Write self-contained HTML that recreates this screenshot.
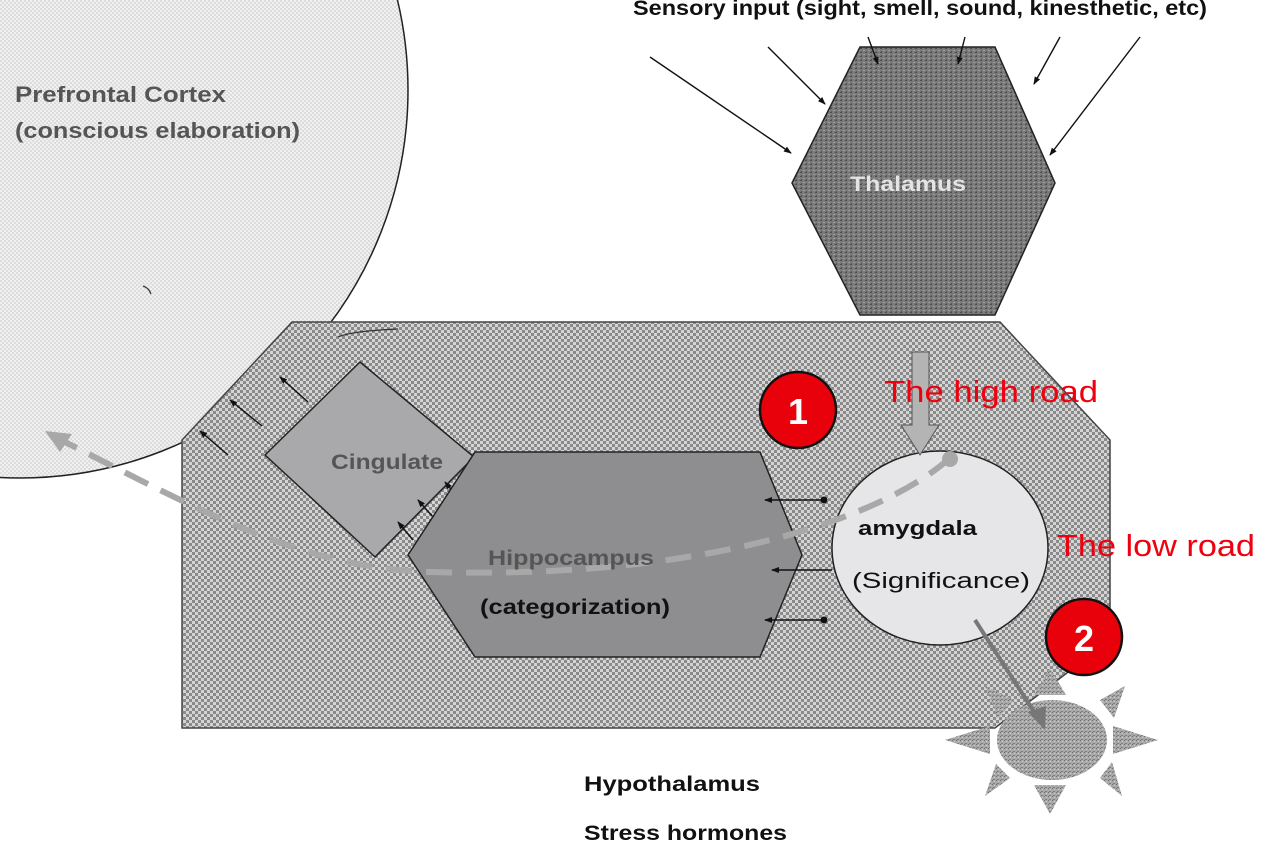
<!DOCTYPE html>
<html><head><meta charset="utf-8"><style>
html,body{margin:0;padding:0;background:#fff;}
svg{display:block;}
text{font-family:"Liberation Sans",sans-serif;}
</style></head><body>
<svg width="1268" height="866" viewBox="0 0 1268 866" xmlns="http://www.w3.org/2000/svg">
<defs>
<pattern id="chk" width="6" height="6" patternUnits="userSpaceOnUse">
<rect width="6" height="6" fill="#d4d4d4"/>
<rect width="3" height="3" fill="#8a8a8a"/>
<rect x="3" y="3" width="3" height="3" fill="#8a8a8a"/>
</pattern>
<pattern id="lchk" width="4" height="4" patternUnits="userSpaceOnUse">
<rect width="4" height="4" fill="#f0f0f0"/>
<rect width="2" height="2" fill="#dcdcdc"/>
<rect x="2" y="2" width="2" height="2" fill="#dcdcdc"/>
</pattern>
<pattern id="tex" width="5" height="4" patternUnits="userSpaceOnUse">
<rect width="5" height="4" fill="#7a7a7a"/>
<rect x="0" y="0" width="2" height="1" fill="#4e4e4e"/>
<rect x="3" y="2" width="2" height="1" fill="#9a9a9a"/>
<rect x="1" y="3" width="1" height="1" fill="#5a5a5a"/>
</pattern>
<pattern id="tex2" width="4" height="4" patternUnits="userSpaceOnUse">
<rect width="4" height="4" fill="#a8a8a8"/>
<rect x="0" y="0" width="1" height="1" fill="#6e6e6e"/>
<rect x="2" y="1" width="1" height="1" fill="#d0d0d0"/>
<rect x="1" y="3" width="2" height="1" fill="#808080"/>
</pattern>
<marker id="ah" markerWidth="8" markerHeight="8" refX="7" refY="4" orient="auto" markerUnits="userSpaceOnUse">
<path d="M0,1 L8,4 L0,7 Z" fill="#111"/>
</marker>
</defs>

<circle cx="20" cy="90" r="388" fill="url(#lchk)" stroke="#222" stroke-width="1.5"/>
<path d="M143,286 q6,2 8,8" fill="none" stroke="#333" stroke-width="1.2"/>
<text x="15" y="102" font-size="22" font-weight="bold" fill="#555" textLength="211" lengthAdjust="spacingAndGlyphs">Prefrontal Cortex</text>
<text x="15" y="138" font-size="22" font-weight="bold" fill="#555" textLength="285" lengthAdjust="spacingAndGlyphs">(conscious elaboration)</text>

<text x="633" y="15" font-size="21" font-weight="bold" fill="#111" textLength="574" lengthAdjust="spacingAndGlyphs">Sensory input (sight, smell, sound, kinesthetic, etc)</text>

<polygon points="860,47 995,47 1055,183 995,315 860,315 792,183" fill="url(#tex)" stroke="#222" stroke-width="1.5"/>
<text x="850" y="191" font-size="21" font-weight="bold" fill="#e4e4e4" textLength="116" lengthAdjust="spacingAndGlyphs">Thalamus</text>
<g stroke="#111" stroke-width="1.4" marker-end="url(#ah)">
<line x1="650" y1="57" x2="791" y2="153"/>
<line x1="768" y1="47" x2="825" y2="104"/>
<line x1="868" y1="37" x2="878" y2="64"/>
<line x1="965" y1="37" x2="958" y2="64"/>
<line x1="1060" y1="37" x2="1034" y2="84"/>
<line x1="1140" y1="37" x2="1050" y2="155"/>
</g>

<polygon points="292,322 1000,322 1110,440 1110,640 995,728 182,728 182,440" fill="url(#chk)" stroke="#444" stroke-width="1.5"/>

<path d="M338,337 q14,-6 60,-8" fill="none" stroke="#333" stroke-width="1.2"/>
<polygon points="360,362 474,457 375,557 265,455" fill="#a9a9ab" stroke="#222" stroke-width="1.5"/>
<text x="331" y="469" font-size="21" font-weight="bold" fill="#555" textLength="112" lengthAdjust="spacingAndGlyphs">Cingulate</text>
<g stroke="#111" stroke-width="1.4" marker-end="url(#ah)">
<line x1="308" y1="402" x2="280" y2="377"/>
<line x1="262" y1="426" x2="230" y2="400"/>
<line x1="228" y1="455" x2="200" y2="431"/>
<line x1="413" y1="540" x2="398" y2="522"/>
<line x1="433" y1="517" x2="418" y2="500"/>
<line x1="465" y1="507" x2="445" y2="482"/>
</g>

<polygon points="475,452 760,452 802,555 760,657 475,657 408,555" fill="#8e8e90" stroke="#222" stroke-width="1.5"/>

<g stroke="#111" stroke-width="1.4" marker-end="url(#ah)">
<line x1="825" y1="500" x2="765" y2="500"/>
<line x1="832" y1="570" x2="772" y2="570"/>
<line x1="825" y1="620" x2="765" y2="620"/>
</g>
<circle cx="824" cy="500" r="3.5" fill="#111"/>
<circle cx="824" cy="620" r="3.5" fill="#111"/>

<ellipse cx="940" cy="548" rx="108" ry="97" fill="#e6e6e8" stroke="#222" stroke-width="1.5"/>
<text x="858" y="535" font-size="20" font-weight="bold" fill="#111" textLength="119" lengthAdjust="spacingAndGlyphs">amygdala</text>
<text x="852" y="588" font-size="22" fill="#111" textLength="178" lengthAdjust="spacingAndGlyphs">(Significance)</text>

<polygon points="912,352 929,352 929,425 939,425 920,455 901,425 912,425" fill="#b4b4b4" stroke="#555" stroke-width="1"/>

<path d="M950,458 C 880,520 700,580 430,572 C 300,568 200,510 55,437" fill="none" stroke="#a8a8a8" stroke-width="6" stroke-dasharray="26,14"/>
<circle cx="950" cy="459" r="8" fill="#a8a8a8"/>
<polygon points="45,431 72,434 60,452" fill="#a8a8a8"/>

<text x="488" y="565" font-size="21" font-weight="bold" fill="#555" textLength="166" lengthAdjust="spacingAndGlyphs">Hippocampus</text>
<text x="480" y="614" font-size="21" font-weight="bold" fill="#111" textLength="190" lengthAdjust="spacingAndGlyphs">(categorization)</text>

<g fill="url(#tex2)">
<polygon points="1050,668 1066,695 1034,695"/>
<polygon points="1050,814 1066,785 1034,785"/>
<polygon points="945,740 990,726 990,754"/>
<polygon points="1158,740 1113,726 1113,754"/>
<polygon points="985,686 1014,700 998,718"/>
<polygon points="1125,686 1100,700 1114,718"/>
<polygon points="985,796 1010,778 996,764"/>
<polygon points="1122,796 1100,778 1112,762"/>
</g>
<ellipse cx="1052" cy="740" rx="55" ry="40" fill="url(#tex2)"/>
<line x1="975" y1="620" x2="1038" y2="718" stroke="#777" stroke-width="4"/>
<polygon points="1045,730 1028,712 1046,706" fill="#777"/>

<circle cx="798" cy="410" r="38" fill="#e8000b" stroke="#111" stroke-width="2.5"/>
<text x="798" y="424" font-size="36" font-weight="bold" fill="#fff" text-anchor="middle">1</text>
<circle cx="1084" cy="637" r="38" fill="#e8000b" stroke="#111" stroke-width="2.5"/>
<text x="1084" y="651" font-size="36" font-weight="bold" fill="#fff" text-anchor="middle">2</text>

<text x="884" y="402" font-size="31" fill="#f0000f" textLength="214" lengthAdjust="spacingAndGlyphs">The high road</text>
<text x="1057" y="556" font-size="31" fill="#f0000f" textLength="198" lengthAdjust="spacingAndGlyphs">The low road</text>

<text x="584" y="791" font-size="21" font-weight="bold" fill="#111" textLength="176" lengthAdjust="spacingAndGlyphs">Hypothalamus</text>
<text x="584" y="840" font-size="21" font-weight="bold" fill="#111" textLength="203" lengthAdjust="spacingAndGlyphs">Stress hormones</text>
</svg>
</body></html>
